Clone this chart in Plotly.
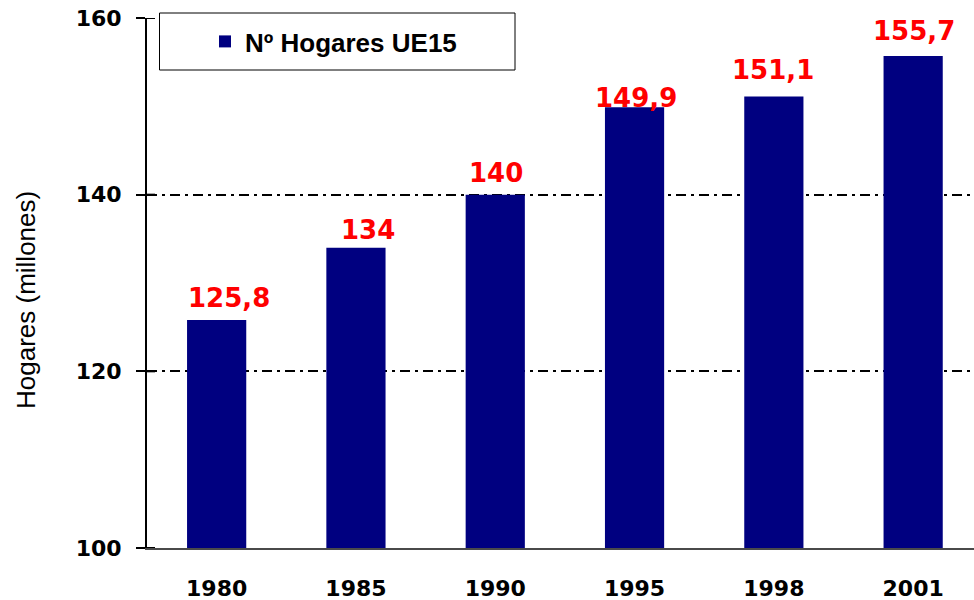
import plotly.graph_objects as go

years = ["1980", "1985", "1990", "1995", "1998", "2001"]
hogares = [125.8, 134.0, 140.0, 149.9, 151.1, 155.7]
y_ticks = [100, 120, 140, 160]
series_name = "Nº Hogares UE15"
y_title = "Hogares (millones)"

# label placement tweaks (pixels), style only
label_xshift = [12, 12, 1, 1, -1, 1]
label_yshift = [5, 1, 5, -8, 10, 8]


def fmt(v):
    s = f"{v:.1f}".replace(".", ",")
    return s[:-2] if s.endswith(",0") else s


W, H = 974, 600
L, R, T, B = 147, 0, 18, 52
pw, ph = W - L - R, H - T - B


def px_x(p):
    return (p - L) / pw


def px_y(p):
    return (H - B - p) / ph


fig = go.Figure()
fig.add_trace(go.Bar(
    x=years, y=hogares, name=series_name,
    marker=dict(color="#000080", line=dict(width=0)),
    width=0.425, showlegend=True, hoverinfo="skip",
))

annotations = []
for i, v in enumerate(hogares):
    annotations.append(dict(
        x=i, y=v, text="<b>" + fmt(v) + "</b>", showarrow=False,
        xref="x", yref="y", yanchor="bottom", xanchor="center",
        xshift=label_xshift[i], yshift=label_yshift[i],
        font=dict(family="DejaVu Sans", size=26, color="#ff0000"),
    ))
annotations.append(dict(
    x=px_x(26), y=px_y(300), xref="paper", yref="paper", text=y_title,
    textangle=-90, showarrow=False, xanchor="center", yanchor="middle",
    font=dict(family="Liberation Sans", size=26, color="#000000"),
))

shapes = [dict(type="rect", xref="paper", yref="paper",
               x0=px_x(159.5), x1=px_x(515), y0=px_y(70), y1=px_y(13),
               line=dict(color="#000000", width=1), fillcolor="#ffffff",
               layer="above")]
# inner half of the crossing y ticks
for t in y_ticks:
    shapes.append(dict(type="line", xref="paper", yref="y",
                       x0=0, x1=8 / pw, y0=t, y1=t,
                       line=dict(color="#000000", width=2), layer="above"))

fig.update_layout(
    width=W, height=H,
    margin=dict(l=L, r=R, t=T, b=B, pad=0, autoexpand=False),
    paper_bgcolor="#ffffff", plot_bgcolor="#ffffff",
    showlegend=True,
    annotations=annotations,
    shapes=shapes,
    legend=dict(
        x=px_x(205), xanchor="left", y=px_y(41.5), yanchor="middle",
        bgcolor="rgba(0,0,0,0)", borderwidth=0,
        font=dict(family="Liberation Sans", size=26, color="#000000", weight="bold"),
    ),
    xaxis=dict(
        type="category", range=[-0.5, -0.5 + pw / 139.3], automargin=False,
        showgrid=False, showline=True, linecolor="#4a4a4a", linewidth=2,
        ticks="", ticklabelstandoff=20,
        tickfont=dict(family="DejaVu Sans", size=22, color="#000000", weight="bold"),
    ),
    yaxis=dict(
        range=[100, 160], tickvals=y_ticks, ticktext=[str(t) for t in y_ticks],
        automargin=False, ticklabeloverflow="allow",
        showline=True, linecolor="#000000", linewidth=2,
        ticks="outside", ticklen=9, tickwidth=2, tickcolor="#000000",
        ticklabelstandoff=10,
        showgrid=True, gridcolor="#000000", gridwidth=1.5,
        griddash="10px,5px,3px,5px",
        zeroline=False,
        tickfont=dict(family="DejaVu Sans", size=22, color="#000000", weight="bold"),
    ),
)

fig.write_html("out.html", config={"displayModeBar": False},
               post_script="document.body.style.margin='0';")
